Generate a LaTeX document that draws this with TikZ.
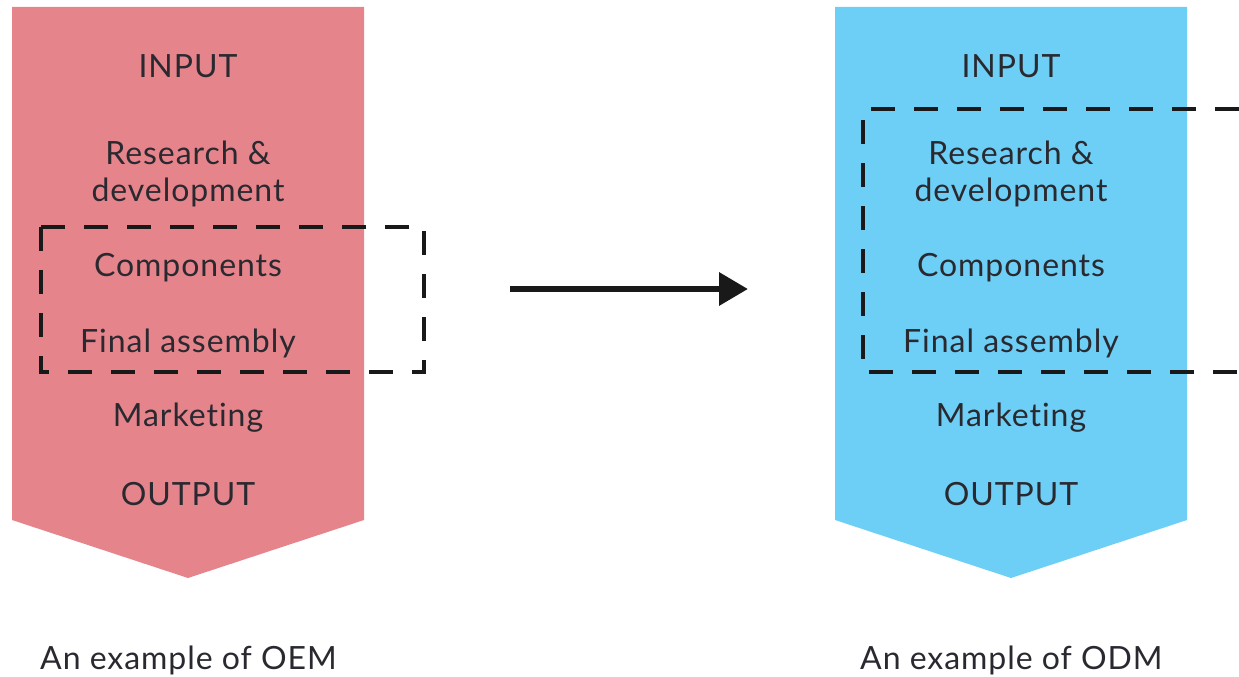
\documentclass[tikz,border=0pt]{standalone}
\usepackage{fontspec}
\setmainfont[LetterSpace=3,Ligatures={NoCommon}]{Lato}
\usetikzlibrary{arrows.meta}
\definecolor{oempink}{HTML}{E6848C}
\definecolor{odmblue}{HTML}{6DCFF6}
\definecolor{txt}{HTML}{2A2930}
\begin{document}
\begin{tikzpicture}[x=1pt,y=-1pt,
  lbl/.style={text=txt,font=\fontsize{32}{37}\selectfont,inner sep=0pt,align=center},
  captionlbl/.style={text=txt,font=\fontsize{32}{37}\selectfont,inner sep=0pt,anchor=west},
  dashbox/.style={draw=black!90,line width=4.5pt,dash pattern=on 24pt off 19pt},
  bigarrow/.style={draw=black!90,line width=6.5pt,-{Triangle[length=29pt,width=32pt]}}]
\useasboundingbox (0,0) rectangle (1239,677);
% pennants
\fill[oempink] (12,7) -- (364,7) -- (364,520) -- (188,578) -- (12,520) -- cycle;
\fill[odmblue] (835,7) -- (1187,7) -- (1187,520) -- (1011,578) -- (835,520) -- cycle;
% left texts
\node[lbl] (linput) at (188,66) {INPUT};
\node[lbl] (lrd) at (188,174) {Research \&\\development};
\node[lbl] (lcomp) at (188,268) {Components};
\node[lbl] (lfinal) at (188,343) {Final assembly};
\node[lbl] (lmark) at (188,418) {Marketing};
\node[lbl] (lout) at (188,494) {OUTPUT};
% right texts
\node[lbl] (rinput) at (1011,66) {INPUT};
\node[lbl] (rrd) at (1011,174) {Research \&\\development};
\node[lbl] (rcomp) at (1011,268) {Components};
\node[lbl] (rfinal) at (1011,343) {Final assembly};
\node[lbl] (rmark) at (1011,418) {Marketing};
\node[lbl] (rout) at (1011,494) {OUTPUT};
% dashed boxes
\draw[dashbox] (41,227) rectangle (424,372);
\draw[dashbox] (1239,109) -- (863,109) -- (863,372) -- (1239,372);
% arrow
\coordinate (as) at (510,289);
\coordinate (ae) at (748,289);
\draw[bigarrow] (as) -- (ae);
% captions
\node[captionlbl] (coem) at (40,660) {An example of OEM};
\node[captionlbl] (codm) at (860,660) {An example of ODM};
\end{tikzpicture}
\end{document}
